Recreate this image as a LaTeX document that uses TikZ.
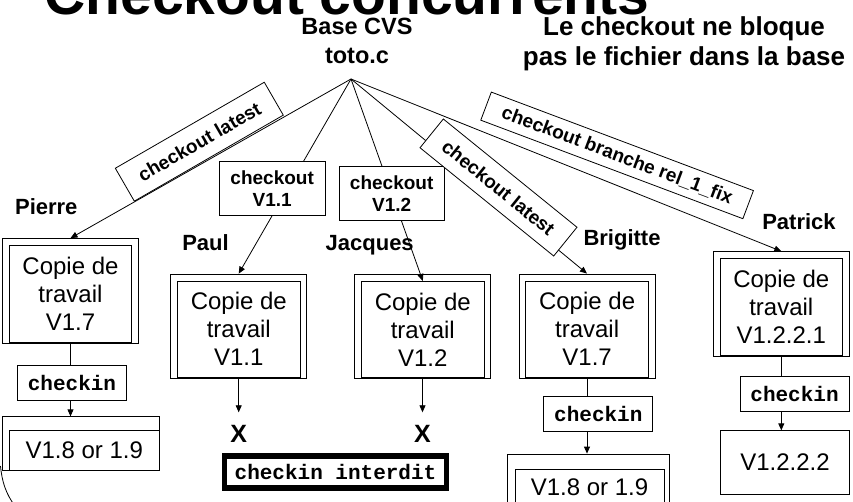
\documentclass[tikz,border=0pt]{standalone}
\usepackage{fontspec}
\setmainfont{Liberation Sans}
\newfontfamily\monof{Liberation Mono}
\usetikzlibrary{arrows.meta}
\begin{document}
\begin{tikzpicture}[x=1pt,y=-1pt,line width=0.8pt,
  arr/.style={-{Triangle[length=7pt,width=6pt]}},
  outerbox/.style={draw,inner sep=0pt,minimum width=136pt,minimum height=104.5pt},
  innerbox/.style={draw,inner sep=0pt,minimum width=122.5pt,minimum height=96.5pt,align=center,font=\fontsize{24}{28}\selectfont},
  ckbox/.style={draw,fill=white,inner sep=0pt,minimum width=109pt,minimum height=35pt,font=\monof\bfseries\fontsize{21}{24}\selectfont},
  who/.style={font=\bfseries\fontsize{22}{26}\selectfont,anchor=base,inner sep=0pt},
  cklabel/.style={draw,fill=white,inner sep=0pt,align=center,font=\bfseries\fontsize{19}{21.7}\selectfont},
  xmark/.style={font=\bfseries\fontsize{25}{28}\selectfont,inner sep=0pt},
  vtext/.style={font=\fontsize{24}{28}\selectfont}]
\useasboundingbox (0,0) rectangle (853,502);
\clip (0,0) rectangle (853,502);
\fill[white] (0,0) rectangle (853,502);

% titles
\node[anchor=base west,inner sep=0pt,font=\bfseries\fontsize{57}{60}\selectfont] (title) at (44,15) {Checkout concurrents};
\node[anchor=north,align=center,inner sep=0pt,font=\bfseries\fontsize{23.5}{29}\selectfont] (base) at (357,17.2) {Base CVS\\toto.c};
\node[anchor=north,align=center,inner sep=0pt,font=\bfseries\fontsize{26}{30.7}\selectfont] (note) at (684,16) {Le checkout ne bloque\\pas le fichier dans la base};
\coordinate (apex) at (351,79);

% names
\node[who] (npierre) at (46.3,215) {Pierre};
\node[who] (npaul) at (205.5,250.7) {Paul};
\node[who] (njacques) at (369.7,250.7) {Jacques};
\node[who] (nbrig) at (622,246) {Brigitte};
\node[who] (npat) at (799,230) {Patrick};

% working copies
\node[outerbox] (pierO) at (70.5,290.8) {};
\node[innerbox] (pierI) at (70.5,293.8) {Copie de\\travail\\V1.7};
\node[outerbox] (paulO) at (238.7,326.3) {};
\node[innerbox] (paulI) at (238.8,329.3) {Copie de\\travail\\V1.1};
\node[outerbox] (jacO) at (422.5,326.3) {};
\node[innerbox] (jacI) at (422.8,329.6) {Copie de\\travail\\V1.2};
\node[outerbox] (brigO) at (587,326.2) {};
\node[innerbox] (brigI) at (587.1,329.3) {Copie de\\travail\\V1.7};
\node[outerbox] (patO) at (781.3,303.9) {};
\node[innerbox] (patI) at (781.3,307.1) {Copie de\\travail\\V1.2.2.1};

% checkin boxes
\node[ckbox] (pierCk) at (72,382.9) {checkin};
\node[ckbox] (brigCk) at (598.3,414.2) {checkin};
\node[ckbox] (patCk) at (794.5,393.7) {checkin};

% results
\node[draw,inner sep=0pt,minimum width=156.6pt,minimum height=53.3pt] (pierV) at (81,443.4) {};
\node[draw,inner sep=0pt,minimum width=150pt,minimum height=39.5pt,vtext] (pierVI) at (84.3,450.3) {V1.8 or 1.9};
\node[draw,inner sep=0pt,minimum width=162pt,minimum height=66pt] (brigV) at (588.3,487) {};
\node[draw,inner sep=0pt,minimum width=149pt,minimum height=51pt] (brigVI) at (589.5,494.5) {};
\node[vtext,inner sep=0pt] (brigVt) at (589.5,487.5) {V1.8 or 1.9};
\node[draw,inner sep=0pt,minimum width=128.6pt,minimum height=63.3pt,vtext] (patV) at (785,462.4) {V1.2.2.2};

\node[xmark] (paulX) at (238.7,434.3) {X};
\node[xmark] (jacX) at (422.5,434.3) {X};
\node[draw,line width=5.5pt,inner sep=0pt,minimum width=222pt,minimum height=32pt,font=\monof\bfseries\fontsize{21}{24}\selectfont] (interdit) at (335.5,472) {checkin interdit};

% connectors
\draw[arr] (apex) -- (pierO.north);
\draw[arr] (apex) -- (paulO.north);
\draw[arr] (apex) -- (jacI.north);
\draw[arr] (apex) -- (brigO.north);
\draw[arr] (apex) -- (patO.north);

\draw (pierO.south) -- (pierO.south |- pierCk.north);
\draw[arr] (pierO.south |- pierCk.south) -- (pierO.south |- pierV.north);
\draw (brigO.south) -- (brigO.south |- brigCk.north);
\draw[arr] (brigO.south |- brigCk.south) -- (brigO.south |- brigV.north);
\draw (patO.south) -- (patO.south |- patCk.north);
\draw[arr] (patO.south |- patCk.south) -- (patO.south |- patV.north);
\draw[arr,shorten >=13pt] (paulO.south) -- (paulX.north);
\draw[arr,shorten >=13pt] (jacO.south) -- (jacX.north);

% labels on connectors
\node[cklabel,minimum width=172pt,minimum height=38pt,rotate=30] (l1) at (199.3,141.7) {checkout latest};
\node[cklabel,minimum width=105.7pt,minimum height=53.3pt] (l2) at (272.2,188.4) {checkout\\V1.1};
\node[cklabel,minimum width=105.3pt,minimum height=54.7pt] (l3) at (391.7,193.4) {checkout\\V1.2};
\node[cklabel,minimum width=172pt,minimum height=37pt,rotate=-39] (l4) at (498.5,187.5) {checkout latest};
\node[cklabel,minimum width=280pt,minimum height=30pt,rotate=-20.6] (l5) at (617.1,155.4) {checkout branche rel\_1\_fix};

% arc
\draw (0.5,466) .. controls (2,482) and (6,494) .. (15,506);
\end{tikzpicture}
\end{document}
